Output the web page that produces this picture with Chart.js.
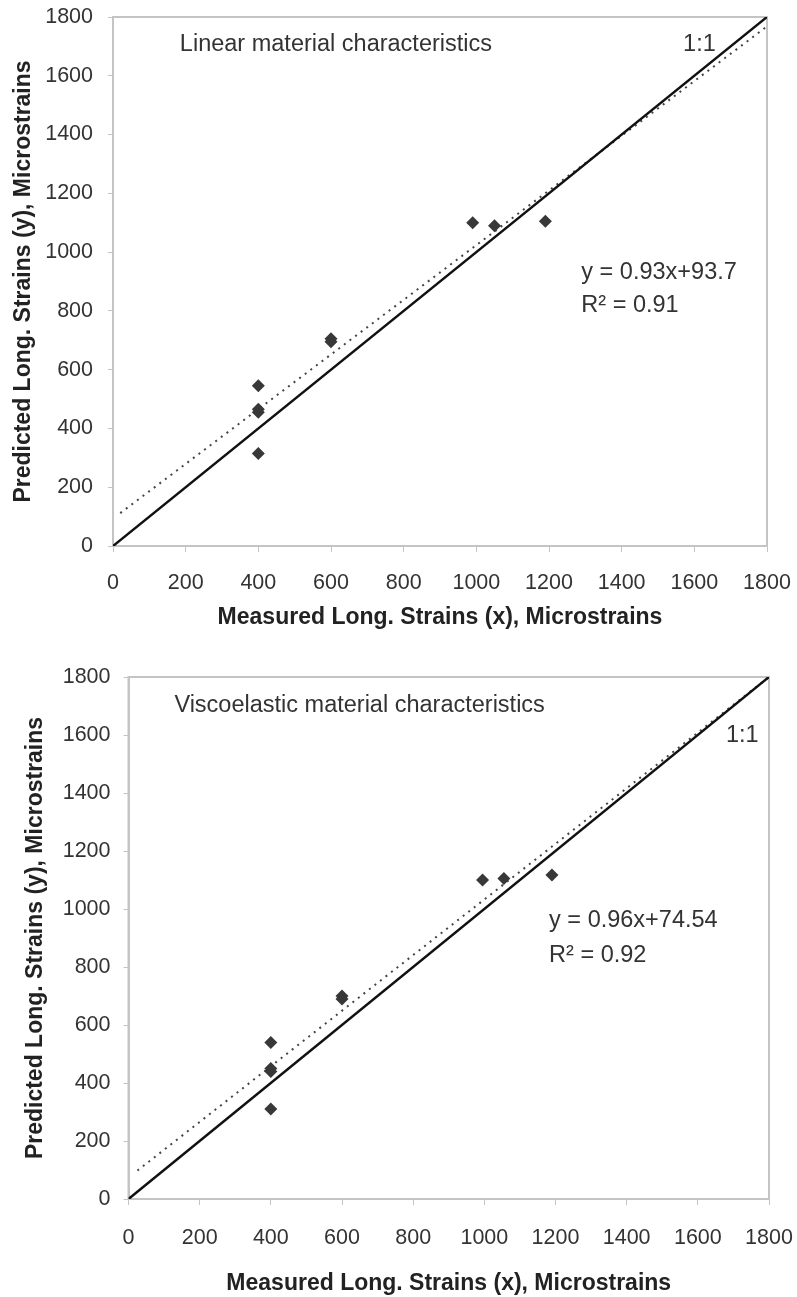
<!DOCTYPE html>
<html lang="en">
<head>
<meta charset="UTF-8">
<title>Predicted vs measured strains</title>
<script src="https://cdn.jsdelivr.net/npm/chart.js@4.4.1/dist/chart.umd.min.js"></script>
<style>
  body { margin: 0; background: #fff; }
  canvas { display: block; }
</style>
</head>
<body>
<canvas id="linearChart" width="797" height="650"></canvas>
<canvas id="viscoChart" width="797" height="647"></canvas>
<script>
// measured (x) vs predicted (y) longitudinal strains, microstrains
const linearMeasured  = [400, 400, 400, 400, 600, 600, 990, 1050, 1190];
const linearPredicted = [545, 465, 455, 315, 705, 695, 1100, 1090, 1105];
const viscoMeasured   = [400, 400, 400, 400, 600, 600, 995, 1055, 1190];
const viscoPredicted  = [540, 450, 440, 310, 700, 690, 1100, 1105, 1117];

// 1:1 line and fitted trend lines (end points)
const oneToOne     = [0, 1800];
const linearTrendX = [20, 1800];
const linearTrendY = [112, 1768];
const viscoTrendX  = [25, 1800];
const viscoTrendY  = [98, 1800];

const axisMin = 0, axisMax = 1800, axisStep = 200;

const linearNotes = ['Linear material characteristics', '1:1', 'y = 0.93x+93.7', 'R\u00B2 = 0.91'];
const viscoNotes  = ['Viscoelastic material characteristics', '1:1', 'y = 0.96x+74.54', 'R\u00B2 = 0.92'];

const xTitle = 'Measured Long. Strains (x), Microstrains';
const yTitle = 'Predicted Long. Strains (y), Microstrains';

const FONT = "'Liberation Sans', Arial, sans-serif";

function pts(xs, ys) {
    return xs.map((x, i) => ({ x: x, y: ys[i] }));
}

// frame round the plot area
const framePlugin = {
    id: 'frame',
    beforeDatasetsDraw(chart) {
        const a = chart.chartArea, ctx = chart.ctx;
        ctx.save();
        ctx.strokeStyle = '#c4c4c4';
        ctx.lineWidth = 2;
        ctx.strokeRect(a.left, a.top, a.right - a.left, a.bottom - a.top);
        ctx.restore();
    }
};

// text notes placed in data units
const notesPlugin = {
    id: 'notes',
    afterDatasetsDraw(chart, args, opts) {
        const ctx = chart.ctx, sx = chart.scales.x, sy = chart.scales.y;
        ctx.save();
        ctx.font = '23.5px ' + FONT;
        ctx.fillStyle = '#333';
        ctx.textAlign = 'left';
        ctx.textBaseline = 'middle';
        opts.text.forEach((t, i) => {
            const p = opts.at[i];
            ctx.fillText(t, sx.getPixelForValue(p[0]), sy.getPixelForValue(p[1]));
        });
        ctx.restore();
    }
};

function makeChart(id, xs, ys, trendX, trendY, notes, noteAt, lay) {
    return new Chart(document.getElementById(id), {
        type: 'scatter',
        data: {
            datasets: [{
                data: pts(xs, ys),
                pointStyle: 'rectRot',
                pointRadius: 6.5,
                borderWidth: 0,
                backgroundColor: '#383838'
            }, {
                data: pts(oneToOne, oneToOne),
                showLine: true,
                pointRadius: 0,
                borderColor: '#111',
                borderWidth: 2.5
            }, {
                data: pts(trendX, trendY),
                showLine: true,
                pointRadius: 0,
                borderColor: '#444',
                borderWidth: 2,
                borderDash: [2, 5]
            }]
        },
        options: {
            responsive: false,
            animation: false,
            events: [],
            layout: { padding: { top: lay.top, right: lay.right, left: 0, bottom: 0 } },
            plugins: {
                legend: { display: false },
                tooltip: { enabled: false },
                notes: { text: notes, at: noteAt }
            },
            scales: {
                x: {
                    min: axisMin, max: axisMax,
                    afterFit: s => { s.height = lay.xh; s.paddingLeft = 0; s.paddingRight = 0; },
                    grid: { drawOnChartArea: false, tickLength: 6, color: '#c4c4c4' },
                    border: { color: '#c4c4c4', width: 2 },
                    ticks: { stepSize: axisStep, padding: lay.xpad, color: '#333', font: { family: FONT, size: 21.5 }, maxRotation: 0, callback: v => String(v) },
                    title: { display: true, text: xTitle, color: '#222', font: { family: FONT, size: 23, weight: 'bold' }, padding: { top: 0, bottom: lay.xtb } }
                },
                y: {
                    min: axisMin, max: axisMax,
                    afterFit: s => { s.width = lay.yw; s.paddingTop = 0; s.paddingBottom = 0; },
                    grid: { drawOnChartArea: false, tickLength: 5, color: '#c4c4c4' },
                    border: { color: '#c4c4c4', width: 2 },
                    ticks: { stepSize: axisStep, padding: lay.ypad, color: '#333', font: { family: FONT, size: 21.5 }, callback: v => String(v) },
                    title: { display: true, text: yTitle, color: '#222', font: { family: FONT, size: 23, weight: 'bold' }, padding: { top: lay.ytt, bottom: 0 } }
                }
            }
        },
        plugins: [framePlugin, notesPlugin]
    });
}

makeChart('linearChart', linearMeasured, linearPredicted, linearTrendX, linearTrendY,
    linearNotes, [[184, 1708], [1569, 1708], [1289, 931], [1289, 818]],
    { top: 17, right: 30, xh: 104, yw: 113, xpad: 18, ypad: 15, xtb: 19, ytt: 10 });

makeChart('viscoChart', viscoMeasured, viscoPredicted, viscoTrendX, viscoTrendY,
    viscoNotes, [[129, 1703], [1679, 1598], [1182, 962], [1182, 838]],
    { top: 27, right: 28, xh: 98, yw: 128.5, xpad: 20, ypad: 13, xtb: 0, ytt: 22 });
</script>
</body>
</html>
